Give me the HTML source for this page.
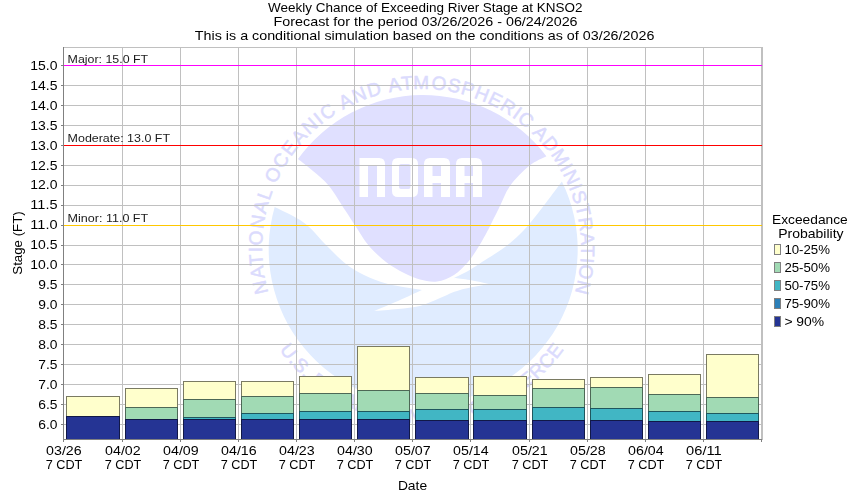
<!DOCTYPE html>
<html><head><meta charset="utf-8"><title>Weekly Chance of Exceeding River Stage at KNSO2</title>
<style>html,body{margin:0;padding:0;background:#fff;}svg{display:block;}text{font-family:"Liberation Sans",sans-serif;}</style>
</head><body>
<svg width="850" height="500" viewBox="0 0 850 500">
<rect x="0" y="0" width="850" height="500" fill="#ffffff"/>
<g id="noaa">
<path d="M298.0,159.0 A154.5,154.5 0 0 1 546.4,156.3 L546.4,156.3 C543.5,157.9 535.1,161.1 529.0,166.0 C522.9,170.9 515.0,179.0 510.0,186.0 C505.0,193.0 502.7,200.7 499.0,208.0 C495.3,215.3 491.3,223.7 488.0,230.0 C484.7,236.3 482.3,240.7 479.0,246.0 C475.7,251.3 472.2,257.2 468.0,262.0 C463.8,266.8 459.2,271.8 454.0,275.0 C448.8,278.2 442.7,280.8 437.0,281.5 C431.3,282.2 425.5,280.9 420.0,279.5 C414.5,278.1 409.7,275.9 404.0,273.0 C398.3,270.1 391.8,266.5 386.0,262.0 C380.2,257.5 373.7,251.3 369.0,246.0 C364.3,240.7 362.0,236.0 358.0,230.0 C354.0,224.0 349.8,217.3 345.0,210.0 C340.2,202.7 334.3,192.5 329.0,186.0 C323.7,179.5 318.2,175.5 313.0,171.0 C307.8,166.5 300.5,161.0 298.0,159.0  Z" fill="#e0e0ff"/>
<path d="M561.9,181.5 A154.5,154.5 0 1 1 274.7,206.9 L274.7,206.9 C277.7,208.4 287.4,212.8 293.0,216.0 C298.6,219.2 302.3,221.0 308.0,226.0 C313.7,231.0 320.7,239.7 327.0,246.0 C333.3,252.3 339.8,259.2 346.0,264.0 C352.2,268.8 357.0,271.7 364.0,275.0 C371.0,278.3 378.3,281.5 388.0,284.0 C397.7,286.5 416.3,289.0 422.0,290.0 L422.0,290.0 C418.0,291.8 406.0,297.5 398.0,301.0 C390.0,304.5 378.0,309.3 374.0,311.0 L374.0,311.0 C378.0,310.7 390.3,309.8 398.0,309.0 C405.7,308.2 413.0,307.8 420.0,306.0 C427.0,304.2 433.3,300.7 440.0,298.0 C446.7,295.3 451.8,292.3 460.0,290.0 C468.2,287.7 484.2,285.0 489.0,284.0 L489.0,284.0 C485.8,283.3 475.8,281.0 470.0,280.0 C464.2,279.0 456.7,278.3 454.0,278.0 L454.0,278.0 C456.3,276.8 463.3,273.7 468.0,271.0 C472.7,268.3 475.8,266.0 482.0,262.0 C488.2,258.0 498.0,252.3 505.0,247.0 C512.0,241.7 517.8,236.5 524.0,230.0 C530.2,223.5 535.7,216.1 542.0,208.0 C548.3,199.9 558.6,185.9 561.9,181.5  Z" fill="#e0ecff"/>
<g fill="#ffffff">
<path d="M359.5,197 V158 H379 Q385,158 385,164 V197 H377 V166 H368 V197 Z"/>
<path fill-rule="evenodd" d="M398,158 H412 Q418,158 418,164 V191 Q418,197 412,197 H398 Q392,197 392,191 V164 Q392,158 398,158 Z M401,164 H408.5 Q410.5,164 410.5,166 V187 Q410.5,189 408.5,189 H401 Q399,189 399,187 V166 Q399,164 401,164 Z"/>
<path fill-rule="evenodd" d="M424,197 V164 Q424,158 430,158 H444 Q450,158 450,164 V197 H441 V183 H432.5 V197 Z M432.5,166 V176 H441 V166 Z"/>
<path fill-rule="evenodd" d="M456,197 V164 Q456,158 462,158 H476 Q482,158 482,164 V197 H473 V183 H464.5 V197 Z M464.5,166 V176 H473 V166 Z"/>
</g>
<path id="arcT1" d="M268.28,292.46 A159.5,159.5 0 0 1 413.25,89.22" fill="none"/>
<text font-size="19" fill="#dbdbfd" stroke="#dbdbfd" stroke-width="0.5" font-family="Liberation Sans, sans-serif"><textPath href="#arcT1" textLength="286.7" lengthAdjust="spacing">NATIONAL OCEANIC AND AT</textPath></text>
<path id="arcT2" d="M413.25,89.22 A159.5,159.5 0 0 1 431.06,89.28" fill="none"/>
<text font-size="19" fill="#dbdbfd" stroke="#dbdbfd" stroke-width="0.5" font-family="Liberation Sans, sans-serif"><textPath href="#arcT2" textLength="17.8" lengthAdjust="spacing">M</textPath></text>
<path id="arcT3" d="M431.06,89.28 A159.5,159.5 0 0 1 574.92,292.46" fill="none"/>
<text font-size="19" fill="#dbdbfd" stroke="#dbdbfd" stroke-width="0.5" font-family="Liberation Sans, sans-serif"><textPath href="#arcT3" textLength="285.6" lengthAdjust="spacing">OSPHERIC ADMINISTRATION</textPath></text>
<path id="arcBot" d="M279.54,349.83 A174.5,174.5 0 0 0 563.66,349.83" fill="none"/>
<text font-size="19" fill="#dbdbfd" stroke="#dbdbfd" stroke-width="0.5" font-family="Liberation Sans, sans-serif"><textPath href="#arcBot" textLength="332.0" lengthAdjust="spacing">U.S. DEPARTMENT OF COMMERCE</textPath></text>
</g>
<g shape-rendering="crispEdges" stroke="#c0c0c0" stroke-width="1" fill="none">
<line x1="63" y1="65.5" x2="762" y2="65.5"/>
<line x1="63" y1="85.5" x2="762" y2="85.5"/>
<line x1="63" y1="105.5" x2="762" y2="105.5"/>
<line x1="63" y1="125.5" x2="762" y2="125.5"/>
<line x1="63" y1="145.5" x2="762" y2="145.5"/>
<line x1="63" y1="165.5" x2="762" y2="165.5"/>
<line x1="63" y1="185.5" x2="762" y2="185.5"/>
<line x1="63" y1="205.5" x2="762" y2="205.5"/>
<line x1="63" y1="225.5" x2="762" y2="225.5"/>
<line x1="63" y1="245.5" x2="762" y2="245.5"/>
<line x1="63" y1="264.5" x2="762" y2="264.5"/>
<line x1="63" y1="284.5" x2="762" y2="284.5"/>
<line x1="63" y1="304.5" x2="762" y2="304.5"/>
<line x1="63" y1="324.5" x2="762" y2="324.5"/>
<line x1="63" y1="344.5" x2="762" y2="344.5"/>
<line x1="63" y1="364.5" x2="762" y2="364.5"/>
<line x1="63" y1="384.5" x2="762" y2="384.5"/>
<line x1="63" y1="404.5" x2="762" y2="404.5"/>
<line x1="63" y1="424.5" x2="762" y2="424.5"/>
<line x1="122.5" y1="47" x2="122.5" y2="439"/>
<line x1="180.5" y1="47" x2="180.5" y2="439"/>
<line x1="238.5" y1="47" x2="238.5" y2="439"/>
<line x1="296.5" y1="47" x2="296.5" y2="439"/>
<line x1="354.5" y1="47" x2="354.5" y2="439"/>
<line x1="412.5" y1="47" x2="412.5" y2="439"/>
<line x1="470.5" y1="47" x2="470.5" y2="439"/>
<line x1="529.5" y1="47" x2="529.5" y2="439"/>
<line x1="587.5" y1="47" x2="587.5" y2="439"/>
<line x1="645.5" y1="47" x2="645.5" y2="439"/>
<line x1="703.5" y1="47" x2="703.5" y2="439"/>
<line x1="761.5" y1="47" x2="761.5" y2="439"/>
<line x1="63" y1="47.5" x2="763" y2="47.5"/>
<line x1="762.5" y1="47" x2="762.5" y2="440"/>
</g>
<g shape-rendering="crispEdges" stroke-width="1">
<line x1="64" y1="65.5" x2="762" y2="65.5" stroke="#ff00ff"/>
<line x1="64" y1="145.5" x2="762" y2="145.5" stroke="#ff0000"/>
<line x1="64" y1="225.5" x2="762" y2="225.5" stroke="#ffc800"/>
</g>
<g shape-rendering="crispEdges">
<rect x="66" y="396" width="54" height="20" fill="#ffffcc"/>
<rect x="66" y="416" width="54" height="23" fill="#253494"/>
<rect x="125" y="388" width="53" height="19" fill="#ffffcc"/>
<rect x="125" y="407" width="53" height="12" fill="#a1dab4"/>
<rect x="125" y="419" width="53" height="20" fill="#253494"/>
<rect x="183" y="381" width="53" height="18" fill="#ffffcc"/>
<rect x="183" y="399" width="53" height="18" fill="#a1dab4"/>
<rect x="183" y="417" width="53" height="2" fill="#41b6c4"/>
<rect x="183" y="419" width="53" height="20" fill="#253494"/>
<rect x="241" y="381" width="53" height="15" fill="#ffffcc"/>
<rect x="241" y="396" width="53" height="17" fill="#a1dab4"/>
<rect x="241" y="413" width="53" height="6" fill="#41b6c4"/>
<rect x="241" y="419" width="53" height="20" fill="#253494"/>
<rect x="299" y="376" width="53" height="17" fill="#ffffcc"/>
<rect x="299" y="393" width="53" height="18" fill="#a1dab4"/>
<rect x="299" y="411" width="53" height="8" fill="#41b6c4"/>
<rect x="299" y="419" width="53" height="20" fill="#253494"/>
<rect x="357" y="346" width="53" height="44" fill="#ffffcc"/>
<rect x="357" y="390" width="53" height="21" fill="#a1dab4"/>
<rect x="357" y="411" width="53" height="8" fill="#41b6c4"/>
<rect x="357" y="419" width="53" height="20" fill="#253494"/>
<rect x="415" y="377" width="54" height="16" fill="#ffffcc"/>
<rect x="415" y="393" width="54" height="16" fill="#a1dab4"/>
<rect x="415" y="409" width="54" height="11" fill="#41b6c4"/>
<rect x="415" y="420" width="54" height="19" fill="#253494"/>
<rect x="473" y="376" width="54" height="19" fill="#ffffcc"/>
<rect x="473" y="395" width="54" height="14" fill="#a1dab4"/>
<rect x="473" y="409" width="54" height="11" fill="#41b6c4"/>
<rect x="473" y="420" width="54" height="19" fill="#253494"/>
<rect x="532" y="379" width="53" height="9" fill="#ffffcc"/>
<rect x="532" y="388" width="53" height="19" fill="#a1dab4"/>
<rect x="532" y="407" width="53" height="13" fill="#41b6c4"/>
<rect x="532" y="420" width="53" height="19" fill="#253494"/>
<rect x="590" y="377" width="53" height="10" fill="#ffffcc"/>
<rect x="590" y="387" width="53" height="21" fill="#a1dab4"/>
<rect x="590" y="408" width="53" height="12" fill="#41b6c4"/>
<rect x="590" y="420" width="53" height="19" fill="#253494"/>
<rect x="648" y="374" width="53" height="20" fill="#ffffcc"/>
<rect x="648" y="394" width="53" height="17" fill="#a1dab4"/>
<rect x="648" y="411" width="53" height="10" fill="#41b6c4"/>
<rect x="648" y="421" width="53" height="18" fill="#253494"/>
<rect x="706" y="354" width="53" height="43" fill="#ffffcc"/>
<rect x="706" y="397" width="53" height="16" fill="#a1dab4"/>
<rect x="706" y="413" width="53" height="8" fill="#41b6c4"/>
<rect x="706" y="421" width="53" height="18" fill="#253494"/>
</g>
<g shape-rendering="crispEdges" stroke="#000000" stroke-opacity="0.52" stroke-width="1" fill="none">
<path d="M66.5,439 V396.5 H119.5 V439"/>
<path d="M67,416.5 H119"/>
<path d="M125.5,439 V388.5 H177.5 V439"/>
<path d="M126,407.5 H177 M126,419.5 H177"/>
<path d="M183.5,439 V381.5 H235.5 V439"/>
<path d="M184,399.5 H235 M184,417.5 H235 M184,419.5 H235"/>
<path d="M241.5,439 V381.5 H293.5 V439"/>
<path d="M242,396.5 H293 M242,413.5 H293 M242,419.5 H293"/>
<path d="M299.5,439 V376.5 H351.5 V439"/>
<path d="M300,393.5 H351 M300,411.5 H351 M300,419.5 H351"/>
<path d="M357.5,439 V346.5 H409.5 V439"/>
<path d="M358,390.5 H409 M358,411.5 H409 M358,419.5 H409"/>
<path d="M415.5,439 V377.5 H468.5 V439"/>
<path d="M416,393.5 H468 M416,409.5 H468 M416,420.5 H468"/>
<path d="M473.5,439 V376.5 H526.5 V439"/>
<path d="M474,395.5 H526 M474,409.5 H526 M474,420.5 H526"/>
<path d="M532.5,439 V379.5 H584.5 V439"/>
<path d="M533,388.5 H584 M533,407.5 H584 M533,420.5 H584"/>
<path d="M590.5,439 V377.5 H642.5 V439"/>
<path d="M591,387.5 H642 M591,408.5 H642 M591,420.5 H642"/>
<path d="M648.5,439 V374.5 H700.5 V439"/>
<path d="M649,394.5 H700 M649,411.5 H700 M649,421.5 H700"/>
<path d="M706.5,439 V354.5 H758.5 V439"/>
<path d="M707,397.5 H758 M707,413.5 H758 M707,421.5 H758"/>
</g>
<g shape-rendering="crispEdges" stroke="#808080" stroke-width="1">
<line x1="63.5" y1="47" x2="63.5" y2="440"/>
<line x1="63" y1="439.5" x2="762" y2="439.5"/>
<line x1="61" y1="65.5" x2="63" y2="65.5"/>
<line x1="61" y1="85.5" x2="63" y2="85.5"/>
<line x1="61" y1="105.5" x2="63" y2="105.5"/>
<line x1="61" y1="125.5" x2="63" y2="125.5"/>
<line x1="61" y1="145.5" x2="63" y2="145.5"/>
<line x1="61" y1="165.5" x2="63" y2="165.5"/>
<line x1="61" y1="185.5" x2="63" y2="185.5"/>
<line x1="61" y1="205.5" x2="63" y2="205.5"/>
<line x1="61" y1="225.5" x2="63" y2="225.5"/>
<line x1="61" y1="245.5" x2="63" y2="245.5"/>
<line x1="61" y1="264.5" x2="63" y2="264.5"/>
<line x1="61" y1="284.5" x2="63" y2="284.5"/>
<line x1="61" y1="304.5" x2="63" y2="304.5"/>
<line x1="61" y1="324.5" x2="63" y2="324.5"/>
<line x1="61" y1="344.5" x2="63" y2="344.5"/>
<line x1="61" y1="364.5" x2="63" y2="364.5"/>
<line x1="61" y1="384.5" x2="63" y2="384.5"/>
<line x1="61" y1="404.5" x2="63" y2="404.5"/>
<line x1="61" y1="424.5" x2="63" y2="424.5"/>
<line x1="63.5" y1="440" x2="63.5" y2="442"/>
<line x1="122.5" y1="440" x2="122.5" y2="442"/>
<line x1="180.5" y1="440" x2="180.5" y2="442"/>
<line x1="238.5" y1="440" x2="238.5" y2="442"/>
<line x1="296.5" y1="440" x2="296.5" y2="442"/>
<line x1="354.5" y1="440" x2="354.5" y2="442"/>
<line x1="412.5" y1="440" x2="412.5" y2="442"/>
<line x1="470.5" y1="440" x2="470.5" y2="442"/>
<line x1="529.5" y1="440" x2="529.5" y2="442"/>
<line x1="587.5" y1="440" x2="587.5" y2="442"/>
<line x1="645.5" y1="440" x2="645.5" y2="442"/>
<line x1="703.5" y1="440" x2="703.5" y2="442"/>
<line x1="761.5" y1="440" x2="761.5" y2="442"/>
</g>
<g shape-rendering="crispEdges" stroke="#808080" stroke-width="1">
<rect x="774.5" y="244.5" width="6" height="10" fill="#ffffcc"/>
<rect x="774.5" y="262.5" width="6" height="10" fill="#a1dab4"/>
<rect x="774.5" y="280.5" width="6" height="10" fill="#41b6c4"/>
<rect x="774.5" y="298.5" width="6" height="10" fill="#2c7fb8"/>
<rect x="774.5" y="316.5" width="6" height="10" fill="#253494"/>
</g>
<g id="txt" style="filter:grayscale(1)">
<text x="425.3" y="12" font-size="13" text-anchor="middle" fill="#000" font-family="Liberation Sans, sans-serif" textLength="314.5" lengthAdjust="spacingAndGlyphs" >Weekly Chance of Exceeding River Stage at KNSO2</text>
<text x="425.6" y="26" font-size="13" text-anchor="middle" fill="#000" font-family="Liberation Sans, sans-serif" textLength="304" lengthAdjust="spacingAndGlyphs" >Forecast for the period 03/26/2026 - 06/24/2026</text>
<text x="424.6" y="40" font-size="13" text-anchor="middle" fill="#000" font-family="Liberation Sans, sans-serif" textLength="459.5" lengthAdjust="spacingAndGlyphs" >This is a conditional simulation based on the conditions as of 03/26/2026</text>
<text x="57.5" y="70" font-size="13" text-anchor="end" fill="#000" font-family="Liberation Sans, sans-serif" textLength="27.2" lengthAdjust="spacingAndGlyphs" >15.0</text>
<text x="57.5" y="90" font-size="13" text-anchor="end" fill="#000" font-family="Liberation Sans, sans-serif" textLength="27.2" lengthAdjust="spacingAndGlyphs" >14.5</text>
<text x="57.5" y="110" font-size="13" text-anchor="end" fill="#000" font-family="Liberation Sans, sans-serif" textLength="27.2" lengthAdjust="spacingAndGlyphs" >14.0</text>
<text x="57.5" y="130" font-size="13" text-anchor="end" fill="#000" font-family="Liberation Sans, sans-serif" textLength="27.2" lengthAdjust="spacingAndGlyphs" >13.5</text>
<text x="57.5" y="150" font-size="13" text-anchor="end" fill="#000" font-family="Liberation Sans, sans-serif" textLength="27.2" lengthAdjust="spacingAndGlyphs" >13.0</text>
<text x="57.5" y="170" font-size="13" text-anchor="end" fill="#000" font-family="Liberation Sans, sans-serif" textLength="27.2" lengthAdjust="spacingAndGlyphs" >12.5</text>
<text x="57.5" y="189" font-size="13" text-anchor="end" fill="#000" font-family="Liberation Sans, sans-serif" textLength="27.2" lengthAdjust="spacingAndGlyphs" >12.0</text>
<text x="57.5" y="209" font-size="13" text-anchor="end" fill="#000" font-family="Liberation Sans, sans-serif" textLength="27.2" lengthAdjust="spacingAndGlyphs" >11.5</text>
<text x="57.5" y="229" font-size="13" text-anchor="end" fill="#000" font-family="Liberation Sans, sans-serif" textLength="27.2" lengthAdjust="spacingAndGlyphs" >11.0</text>
<text x="57.5" y="249" font-size="13" text-anchor="end" fill="#000" font-family="Liberation Sans, sans-serif" textLength="27.2" lengthAdjust="spacingAndGlyphs" >10.5</text>
<text x="57.5" y="269" font-size="13" text-anchor="end" fill="#000" font-family="Liberation Sans, sans-serif" textLength="27.2" lengthAdjust="spacingAndGlyphs" >10.0</text>
<text x="57.5" y="289" font-size="13" text-anchor="end" fill="#000" font-family="Liberation Sans, sans-serif" textLength="19.2" lengthAdjust="spacingAndGlyphs" >9.5</text>
<text x="57.5" y="309" font-size="13" text-anchor="end" fill="#000" font-family="Liberation Sans, sans-serif" textLength="19.2" lengthAdjust="spacingAndGlyphs" >9.0</text>
<text x="57.5" y="329" font-size="13" text-anchor="end" fill="#000" font-family="Liberation Sans, sans-serif" textLength="19.2" lengthAdjust="spacingAndGlyphs" >8.5</text>
<text x="57.5" y="349" font-size="13" text-anchor="end" fill="#000" font-family="Liberation Sans, sans-serif" textLength="19.2" lengthAdjust="spacingAndGlyphs" >8.0</text>
<text x="57.5" y="369" font-size="13" text-anchor="end" fill="#000" font-family="Liberation Sans, sans-serif" textLength="19.2" lengthAdjust="spacingAndGlyphs" >7.5</text>
<text x="57.5" y="389" font-size="13" text-anchor="end" fill="#000" font-family="Liberation Sans, sans-serif" textLength="19.2" lengthAdjust="spacingAndGlyphs" >7.0</text>
<text x="57.5" y="409" font-size="13" text-anchor="end" fill="#000" font-family="Liberation Sans, sans-serif" textLength="19.2" lengthAdjust="spacingAndGlyphs" >6.5</text>
<text x="57.5" y="429" font-size="13" text-anchor="end" fill="#000" font-family="Liberation Sans, sans-serif" textLength="19.2" lengthAdjust="spacingAndGlyphs" >6.0</text>
<text x="63.9" y="455" font-size="13" text-anchor="middle" fill="#000" font-family="Liberation Sans, sans-serif" textLength="35.6" lengthAdjust="spacingAndGlyphs" >03/26</text>
<text x="64.0" y="469" font-size="13" text-anchor="middle" fill="#000" font-family="Liberation Sans, sans-serif" textLength="36.6" lengthAdjust="spacingAndGlyphs" >7 CDT</text>
<text x="122.9" y="455" font-size="13" text-anchor="middle" fill="#000" font-family="Liberation Sans, sans-serif" textLength="35.6" lengthAdjust="spacingAndGlyphs" >04/02</text>
<text x="123.0" y="469" font-size="13" text-anchor="middle" fill="#000" font-family="Liberation Sans, sans-serif" textLength="36.6" lengthAdjust="spacingAndGlyphs" >7 CDT</text>
<text x="180.9" y="455" font-size="13" text-anchor="middle" fill="#000" font-family="Liberation Sans, sans-serif" textLength="35.6" lengthAdjust="spacingAndGlyphs" >04/09</text>
<text x="181.0" y="469" font-size="13" text-anchor="middle" fill="#000" font-family="Liberation Sans, sans-serif" textLength="36.6" lengthAdjust="spacingAndGlyphs" >7 CDT</text>
<text x="238.9" y="455" font-size="13" text-anchor="middle" fill="#000" font-family="Liberation Sans, sans-serif" textLength="35.6" lengthAdjust="spacingAndGlyphs" >04/16</text>
<text x="239.0" y="469" font-size="13" text-anchor="middle" fill="#000" font-family="Liberation Sans, sans-serif" textLength="36.6" lengthAdjust="spacingAndGlyphs" >7 CDT</text>
<text x="296.9" y="455" font-size="13" text-anchor="middle" fill="#000" font-family="Liberation Sans, sans-serif" textLength="35.6" lengthAdjust="spacingAndGlyphs" >04/23</text>
<text x="297.0" y="469" font-size="13" text-anchor="middle" fill="#000" font-family="Liberation Sans, sans-serif" textLength="36.6" lengthAdjust="spacingAndGlyphs" >7 CDT</text>
<text x="354.9" y="455" font-size="13" text-anchor="middle" fill="#000" font-family="Liberation Sans, sans-serif" textLength="35.6" lengthAdjust="spacingAndGlyphs" >04/30</text>
<text x="355.0" y="469" font-size="13" text-anchor="middle" fill="#000" font-family="Liberation Sans, sans-serif" textLength="36.6" lengthAdjust="spacingAndGlyphs" >7 CDT</text>
<text x="412.9" y="455" font-size="13" text-anchor="middle" fill="#000" font-family="Liberation Sans, sans-serif" textLength="35.6" lengthAdjust="spacingAndGlyphs" >05/07</text>
<text x="413.0" y="469" font-size="13" text-anchor="middle" fill="#000" font-family="Liberation Sans, sans-serif" textLength="36.6" lengthAdjust="spacingAndGlyphs" >7 CDT</text>
<text x="470.9" y="455" font-size="13" text-anchor="middle" fill="#000" font-family="Liberation Sans, sans-serif" textLength="35.6" lengthAdjust="spacingAndGlyphs" >05/14</text>
<text x="471.0" y="469" font-size="13" text-anchor="middle" fill="#000" font-family="Liberation Sans, sans-serif" textLength="36.6" lengthAdjust="spacingAndGlyphs" >7 CDT</text>
<text x="529.9" y="455" font-size="13" text-anchor="middle" fill="#000" font-family="Liberation Sans, sans-serif" textLength="35.6" lengthAdjust="spacingAndGlyphs" >05/21</text>
<text x="530.0" y="469" font-size="13" text-anchor="middle" fill="#000" font-family="Liberation Sans, sans-serif" textLength="36.6" lengthAdjust="spacingAndGlyphs" >7 CDT</text>
<text x="587.9" y="455" font-size="13" text-anchor="middle" fill="#000" font-family="Liberation Sans, sans-serif" textLength="35.6" lengthAdjust="spacingAndGlyphs" >05/28</text>
<text x="588.0" y="469" font-size="13" text-anchor="middle" fill="#000" font-family="Liberation Sans, sans-serif" textLength="36.6" lengthAdjust="spacingAndGlyphs" >7 CDT</text>
<text x="645.9" y="455" font-size="13" text-anchor="middle" fill="#000" font-family="Liberation Sans, sans-serif" textLength="35.6" lengthAdjust="spacingAndGlyphs" >06/04</text>
<text x="646.0" y="469" font-size="13" text-anchor="middle" fill="#000" font-family="Liberation Sans, sans-serif" textLength="36.6" lengthAdjust="spacingAndGlyphs" >7 CDT</text>
<text x="703.9" y="455" font-size="13" text-anchor="middle" fill="#000" font-family="Liberation Sans, sans-serif" textLength="35.6" lengthAdjust="spacingAndGlyphs" >06/11</text>
<text x="704.0" y="469" font-size="13" text-anchor="middle" fill="#000" font-family="Liberation Sans, sans-serif" textLength="36.6" lengthAdjust="spacingAndGlyphs" >7 CDT</text>
<text x="412.5" y="490" font-size="13" text-anchor="middle" fill="#000" font-family="Liberation Sans, sans-serif" textLength="29.2" lengthAdjust="spacingAndGlyphs" >Date</text>
<text transform="translate(22,243) rotate(-90)" font-size="13" text-anchor="middle" fill="#000" font-family="Liberation Sans, sans-serif" textLength="63.5" lengthAdjust="spacingAndGlyphs">Stage (FT)</text>
<text x="67.6" y="63" font-size="11.5" text-anchor="start" fill="#1c1c1c" font-family="Liberation Sans, sans-serif" textLength="80.6" lengthAdjust="spacingAndGlyphs" >Major: 15.0 FT</text>
<text x="67.6" y="142" font-size="11.5" text-anchor="start" fill="#1c1c1c" font-family="Liberation Sans, sans-serif" textLength="102.4" lengthAdjust="spacingAndGlyphs" >Moderate: 13.0 FT</text>
<text x="67.6" y="222" font-size="11.5" text-anchor="start" fill="#1c1c1c" font-family="Liberation Sans, sans-serif" textLength="80.6" lengthAdjust="spacingAndGlyphs" >Minor: 11.0 FT</text>
<text x="809.9" y="224" font-size="13" text-anchor="middle" fill="#000" font-family="Liberation Sans, sans-serif" textLength="75.6" lengthAdjust="spacingAndGlyphs" >Exceedance</text>
<text x="810.9" y="238" font-size="13" text-anchor="middle" fill="#000" font-family="Liberation Sans, sans-serif" textLength="65.4" lengthAdjust="spacingAndGlyphs" >Probability</text>
<text x="784.4" y="254" font-size="13" text-anchor="start" fill="#000" font-family="Liberation Sans, sans-serif" textLength="45.6" lengthAdjust="spacingAndGlyphs" >10-25%</text>
<text x="784.4" y="272" font-size="13" text-anchor="start" fill="#000" font-family="Liberation Sans, sans-serif" textLength="45.6" lengthAdjust="spacingAndGlyphs" >25-50%</text>
<text x="784.4" y="290" font-size="13" text-anchor="start" fill="#000" font-family="Liberation Sans, sans-serif" textLength="45.6" lengthAdjust="spacingAndGlyphs" >50-75%</text>
<text x="784.4" y="308" font-size="13" text-anchor="start" fill="#000" font-family="Liberation Sans, sans-serif" textLength="45.6" lengthAdjust="spacingAndGlyphs" >75-90%</text>
<text x="784.4" y="326" font-size="13" text-anchor="start" fill="#000" font-family="Liberation Sans, sans-serif" textLength="39.8" lengthAdjust="spacingAndGlyphs" >&gt; 90%</text>
</g>
</svg></body></html>
